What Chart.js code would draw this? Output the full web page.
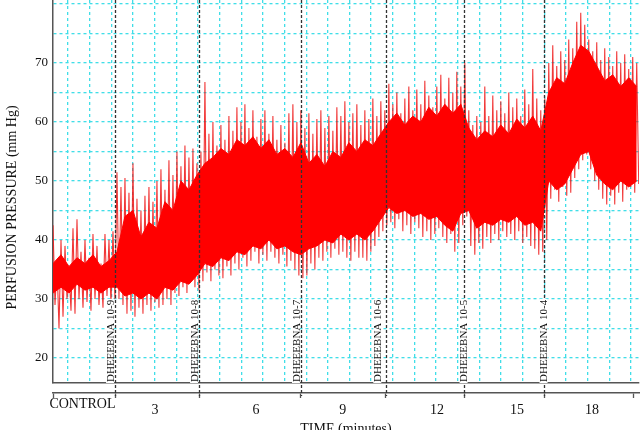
<!DOCTYPE html>
<html>
<head>
<meta charset="utf-8">
<script src="https://cdn.jsdelivr.net/npm/chart.js"></script>
<style>
  html, body { margin: 0; padding: 0; background: #fff; }
</style>
</head>
<body>
<canvas id="chart" width="642" height="430"></canvas>
<script>
const SERIF = "'Liberation Serif', 'Times New Roman', serif";
const GRID = 'rgb(64, 222, 232)';
const AXIS = '#555';

// pressure trace: one peak and one trough per sample (mm Hg)
const sampleStep = 0.1385; // minutes between samples
const peaks = [
  42.5, 36, 40, 39, 35, 42, 43.5, 38, 40, 37, 41, 39, 36, 41, 40, 41.5,
  51.5, 49, 50.5, 48, 53, 47, 45, 47.5, 49, 46.5, 50, 52, 48.5, 53.5, 51, 55, 52.5, 56, 54, 55.5, 53,
  55, 66.8, 58, 60, 56, 59.5, 57, 61, 58.5, 62.5, 60, 63, 59, 62, 57.5, 60.5, 62, 58, 61, 57, 59.5, 56.5, 61.5, 63, 60, 62,
  59, 61.5, 58, 60.5, 62, 59, 61, 58.5, 62.5, 61, 63.5, 60, 61.5, 63, 59.5, 62, 60.5, 64, 61, 63.5, 62,
  66.5, 63, 65, 61.5, 64, 66, 62, 65.5, 63, 67, 64.5, 62.5, 66, 68, 64, 67.5, 65, 68.5, 66,
  70, 62, 59.5, 61, 60, 66, 61, 64.5, 62, 63.5, 61.5, 65, 62.5, 64, 61, 65.5, 63, 69, 64, 62,
  64, 70, 73, 69.5, 72, 70.5, 74, 72.5, 77, 78.5, 76.5, 74, 72, 73.5, 70.5, 72.5, 71, 69.5, 72, 70, 71.5, 69, 71, 70
];
const troughs = [
  29, 25, 27, 30, 28, 27.5, 30, 28.5, 29.5, 28, 30, 29, 28.5, 30.5, 29, 30,
  30, 29, 27.5, 28, 27, 28.5, 27.5, 29, 28, 29.5, 28.5, 29, 30, 29, 31, 30.5, 32, 31, 33, 32, 31.5,
  33, 34.5, 33, 35, 34, 33.5, 35.5, 34, 36, 35, 37, 35.5, 36.5, 38, 36, 37.5, 36.5, 38, 37, 36, 37.5, 35.5, 36.5, 35, 34, 33.5,
  34, 36, 35, 37, 36.5, 38, 37, 38.5, 37.5, 38, 37, 36.5, 38, 37, 37, 36.5, 38, 39, 40.5, 41.5, 42.5,
  43, 42, 43.5, 41.5, 42.5, 41, 43, 42, 40.5, 41.5, 40, 41, 42, 40.5, 39.5, 41, 38, 39.5, 42.5,
  44, 39, 37.5, 39.5, 38.5, 40.5, 39.5, 41, 40, 41.5, 40.5, 41, 40, 41.5, 39.5, 40.5, 39, 38.5, 37.5, 38,
  40, 47, 48.5, 46.5, 49, 47.5, 48, 50.5, 52, 53.5, 54.5, 52, 50, 48.5, 47, 46, 47.5, 46, 48, 46.5, 48.5, 49, 48, 49.5
];

// solid centre of the trace, read every second sample
const coreHigh = [
  36, 37.5, 35.5, 37, 36, 37.5, 35.5, 36.5,
  38, 44, 45, 40.5, 43, 42, 46.5, 45, 50, 48.5, 51,
  53, 54, 55.5, 54.5, 57, 56, 57.5, 55.5, 57, 54.5, 55.5, 54, 56.5,
  53, 54.5, 52.5, 55, 54, 56.5, 55, 57, 56, 58,
  60, 61.5, 59.5, 61, 60, 62.5, 61, 63, 61.5, 63,
  59, 57, 58.5, 57.5, 59.5, 58, 60.5, 59, 61, 58.5,
  65, 67.5, 66.5, 70, 73, 72, 69.5, 67, 68, 66, 67.5, 66
];
const coreLow = [
  31, 32, 31, 32.5, 31.5, 32, 31, 32,
  32, 30.5, 31, 30, 31, 30, 32, 31.5, 33, 32.5, 34,
  36, 35.5, 37, 36.5, 38, 37.5, 39, 38.5, 40, 38.5, 39, 38, 37.5,
  38.5, 39, 40, 39.5, 41, 40, 41, 40, 41.5, 43.5,
  45.5, 44.5, 45, 44, 44.5, 43.5, 44, 42.5, 41.5, 44.5,
  45, 42, 43, 42.5, 43.5, 43, 44, 42.5, 43, 41.5,
  50, 48.5, 49.5, 52, 54.5, 55, 51, 49.5, 48.5, 50, 49, 50
];

// drug additions
const doseTimes = [2.15, 5.06, 8.59, 11.53, 14.24, 17.01];
const doseLabels = ['DHEEEBNA 10-9', 'DHEEEBNA 10-8', 'DHEEEBNA 10-7', 'DHEEEBNA 10-6', 'DHEEEBNA 10-5', 'DHEEEBNA 10-4'];
const labelNudge = [-4.5, -4.5, -4.5, -8, 0, 0];

// period bracket under the axis
const periodTimes = [1.02, 3.53, 7.03, 10.04, 13.30, 16.07, 18.67];
const periodLabels = ['CONTROL', '3', '6', '9', '12', '15', '18'];
const endTime = 20.12;
const bracketTimes = [0].concat(doseTimes, [endTime]);

const yTickLabels = [20, 30, 40, 50, 60, 70];

const trace = [];
peaks.forEach((p, i) => {
  trace.push({ x: i * sampleStep, y: p });
  trace.push({ x: (i + 0.5) * sampleStep, y: troughs[i] });
});
const coreTop = coreHigh.map((v, k) => ({ x: 2 * k * sampleStep, y: v }));
const coreBottom = coreLow.map((v, k) => ({ x: 2 * k * sampleStep, y: v }));

const periodLabel = v => {
  const i = periodTimes.indexOf(v);
  return i >= 0 ? periodLabels[i] : '';
};

const doseMarks = {
  id: 'doseMarks',
  afterDatasetsDraw(chart) {
    const { ctx, chartArea, scales: { x, x2 } } = chart;
    ctx.save();
    ctx.strokeStyle = '#333';
    ctx.lineWidth = 1.3;
    ctx.setLineDash([3, 2]);
    doseTimes.forEach(t => {
      const px = Math.round(x.getPixelForValue(t)) + 0.5;
      ctx.beginPath();
      ctx.moveTo(px, chartArea.top);
      ctx.lineTo(px, x2.top + 3);
      ctx.stroke();
    });
    ctx.setLineDash([]);

    ctx.font = '11px ' + SERIF;
    ctx.textBaseline = 'middle';
    ctx.textAlign = 'left';
    doseTimes.forEach((t, i) => {
      const px = x.getPixelForValue(t) + labelNudge[i];
      const w = ctx.measureText(doseLabels[i]).width;
      ctx.save();
      ctx.translate(px, chartArea.bottom - 1);
      ctx.rotate(-Math.PI / 2);
      ctx.fillStyle = '#fff';
      ctx.fillRect(-1, -4.5, w + 2, 8);
      ctx.fillStyle = '#111';
      ctx.fillText(doseLabels[i], 0, 0.5);
      ctx.restore();
    });

    // y axis title, sits a bit below the middle of the plot
    ctx.save();
    ctx.translate(12, (chartArea.top + chartArea.bottom) / 2 + 16);
    ctx.rotate(-Math.PI / 2);
    ctx.textAlign = 'center';
    ctx.font = '14px ' + SERIF;
    ctx.fillStyle = '#111';
    ctx.fillText('PERFUSION PRESSURE (mm Hg)', 0, 0);
    ctx.restore();
    ctx.restore();
  }
};

new Chart(document.getElementById('chart'), {
  type: 'line',
  data: {
    datasets: [
      {
        // drawn first, the solid core goes over it
        data: trace,
        borderColor: 'rgba(238, 20, 20, 0.85)',
        borderWidth: 1.1,
        pointRadius: 0,
        tension: 0,
        fill: false,
        order: 3
      },
      {
        data: coreTop,
        borderColor: '#ff0000',
        borderWidth: 1,
        backgroundColor: '#ff0000',
        pointRadius: 0,
        tension: 0,
        fill: '+1',
        order: 1
      },
      {
        data: coreBottom,
        borderColor: '#ff0000',
        borderWidth: 1,
        pointRadius: 0,
        tension: 0,
        fill: false,
        order: 2
      }
    ]
  },
  options: {
    responsive: false,
    animation: false,
    layout: { padding: { top: 0, left: 0, right: 3, bottom: 0 } },
    plugins: {
      legend: { display: false },
      tooltip: { enabled: false }
    },
    scales: {
      x: {
        type: 'linear',
        min: 0,
        max: 20.3,
        weight: 0,
        afterBuildTicks: s => {
          const t = [];
          for (let k = 0; 0.52 + 0.75 * k <= 20.3; k++) t.push({ value: +(0.52 + 0.75 * k).toFixed(2) });
          s.ticks = t;
        },
        afterFit: s => { s.height = 10; s.paddingLeft = 0; s.paddingRight = 0; },
        ticks: { display: false },
        grid: { color: GRID, lineWidth: 1.3, drawTicks: false },
        border: { display: true, color: AXIS, width: 1.5, dash: [3, 3] }
      },
      x2: {
        type: 'linear',
        position: 'bottom',
        min: 0,
        max: 20.3,
        weight: 1,
        afterBuildTicks: s => {
          s.ticks = bracketTimes.concat(periodTimes).sort((a, b) => a - b).map(v => ({ value: v }));
        },
        afterFit: s => { s.height = 37; s.paddingLeft = 0; s.paddingRight = 0; },
        ticks: {
          autoSkip: false,
          maxRotation: 0,
          padding: 2,
          color: '#111',
          callback: v => periodLabel(v),
          font: c => ({
            family: SERIF,
            size: 14,
            lineHeight: c.tick && periodLabel(c.tick.value) === 'CONTROL' ? '8px' : '20px'
          })
        },
        grid: {
          drawOnChartArea: false,
          drawTicks: true,
          tickLength: 5,
          tickWidth: 1.3,
          tickColor: c => (c.tick && bracketTimes.includes(c.tick.value)) ? AXIS : 'rgba(0,0,0,0)'
        },
        border: { display: true, color: AXIS, width: 1.5 },
        title: {
          display: true,
          text: 'TIME (minutes)',
          color: '#111',
          font: { family: SERIF, size: 14 },
          padding: { top: 0, bottom: -8 }
        }
      },
      y: {
        type: 'linear',
        min: 15.76,
        max: 80.68,
        afterBuildTicks: s => {
          const t = [];
          for (let v = 20; v <= 80; v += 5) t.push({ value: v });
          s.ticks = t;
        },
        afterFit: s => { s.width = 53; s.paddingTop = 0; s.paddingBottom = 0; },
        ticks: {
          autoSkip: false,
          padding: 5,
          color: '#111',
          font: { family: SERIF, size: 13 },
          callback: v => yTickLabels.includes(v) ? String(v) : ''
        },
        grid: { color: GRID, lineWidth: 1.3, drawTicks: false },
        border: { display: true, color: AXIS, width: 1.5, dash: [3, 3] }
      }
    }
  },
  plugins: [doseMarks]
});
</script>
</body>
</html>
